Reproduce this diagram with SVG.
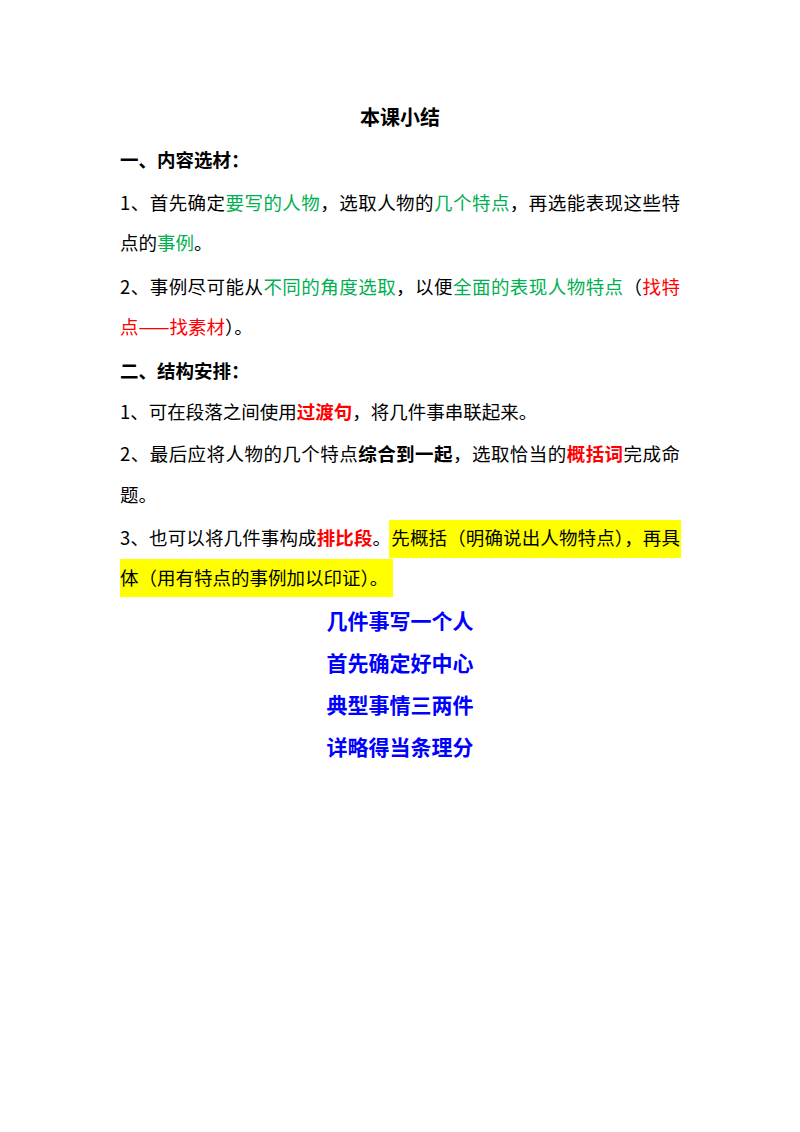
<svg xmlns="http://www.w3.org/2000/svg" width="800" height="1132" viewBox="0 0 800 1132">
<style>
text{font-family:"Noto Sans CJK SC","Noto Sans",sans-serif;font-size:18.5px;fill:#000}
.b{font-weight:bold}
.g{fill:#00b050}
.r{fill:#ff0000}
.rb{fill:#ff0000;font-weight:bold}
.bl{fill:#0000ff;font-weight:bold;font-size:21px}
</style>
<rect width="800" height="1132" fill="#fff"/>
<rect x="389" y="520" width="292" height="38" fill="#ffff00"/>
<rect x="120" y="559" width="273" height="38" fill="#ffff00"/>
<text x="400" y="125" text-anchor="middle" class="b" style="font-size:20px">本课小结</text>
<text x="120" y="167" class="b">一、内容选材：</text>
<text x="120" y="210" textLength="560" lengthAdjust="spacing">1、首先确定<tspan class="g">要写的人物</tspan>，选取人物的<tspan class="g">几个特点</tspan>，再选能表现这些特</text>
<text x="120" y="250">点的<tspan class="g">事例</tspan>。</text>
<text x="120" y="294" textLength="560" lengthAdjust="spacing">2、事例尽可能从<tspan class="g">不同的角度选取</tspan>，以便<tspan class="g">全面的表现人物特点</tspan>（<tspan class="r">找特</tspan></text>
<text x="120" y="334"><tspan class="r">点——找素材</tspan>）。</text>
<text x="120" y="378" class="b">二、结构安排：</text>
<text x="120" y="419">1、可在段落之间使用<tspan class="rb">过渡句</tspan>，将几件事串联起来。</text>
<text x="120" y="461" textLength="560" lengthAdjust="spacing">2、最后应将人物的几个特点<tspan class="b">综合到一起</tspan>，选取恰当的<tspan class="rb">概括词</tspan>完成命</text>
<text x="120" y="502">题。</text>
<text x="120" y="545" textLength="560" lengthAdjust="spacing">3、也可以将几件事构成<tspan class="rb">排比段</tspan>。先概括（明确说出人物特点），再具</text>
<text x="120" y="585">体（用有特点的事例加以印证）。</text>
<text x="400" y="629" text-anchor="middle" class="bl">几件事写一个人</text>
<text x="400" y="671" text-anchor="middle" class="bl">首先确定好中心</text>
<text x="400" y="713" text-anchor="middle" class="bl">典型事情三两件</text>
<text x="400" y="755" text-anchor="middle" class="bl">详略得当条理分</text>
</svg>
